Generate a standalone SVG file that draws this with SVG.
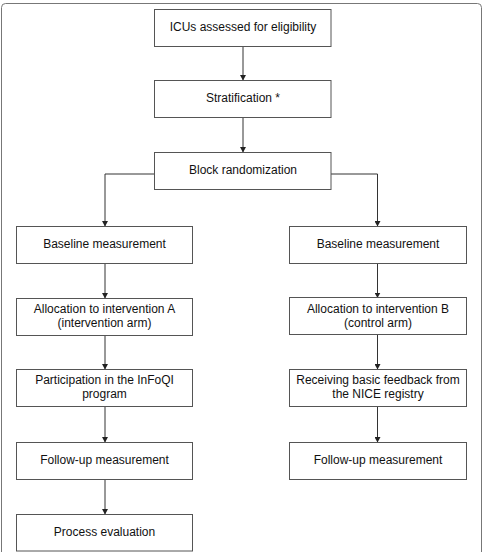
<svg xmlns="http://www.w3.org/2000/svg" width="485" height="552" viewBox="0 0 485 552">
<defs>
<marker id="ah" markerWidth="6" markerHeight="6" refX="5" refY="3" orient="auto" markerUnits="userSpaceOnUse">
<path d="M0,0 L5.5,3 L0,6 Z" fill="#222"/>
</marker>
<style>
.box{fill:#fff;stroke:#555;stroke-width:1}
.t{font-family:"Liberation Sans",Arial,sans-serif;font-size:12px;fill:#111;text-anchor:middle}
.c{fill:none;stroke:#333;stroke-width:1}
</style>
</defs>
<rect x="0" y="0" width="485" height="552" fill="#fff"/>
<rect x="1.5" y="3.5" width="480" height="560" rx="4" fill="#fff" stroke="#777" stroke-width="1"/>
<g id="connectors">
<path class="c" d="M243,46 V80" marker-end="url(#ah)"/>
<path class="c" d="M243,117 V152" marker-end="url(#ah)"/>
<path class="c" d="M154,174 H105 V226" marker-end="url(#ah)"/>
<path class="c" d="M331,174 H377.5 V226" marker-end="url(#ah)"/>
<path class="c" d="M105,263 V298" marker-end="url(#ah)"/>
<path class="c" d="M377.5,263 V297.5" marker-end="url(#ah)"/>
<path class="c" d="M105,335 V369" marker-end="url(#ah)"/>
<path class="c" d="M377.5,335 V369" marker-end="url(#ah)"/>
<path class="c" d="M105,406 V442" marker-end="url(#ah)"/>
<path class="c" d="M377.5,406 V442" marker-end="url(#ah)"/>
<path class="c" d="M105,479 V514" marker-end="url(#ah)"/>
</g>
<g id="n1"><rect class="box" x="154.5" y="9.5" width="176.5" height="37"/><text class="t" x="243" y="30.5">ICUs assessed for eligibility</text></g>
<g id="n2"><rect class="box" x="154.5" y="80.5" width="176.5" height="37"/><text class="t" x="243" y="101.5">Stratification *</text></g>
<g id="n3"><rect class="box" x="154.5" y="152.5" width="176.5" height="37"/><text class="t" x="243" y="173.5">Block randomization</text></g>
<g id="n4"><rect class="box" x="16.5" y="226.5" width="176" height="37"/><text class="t" x="104.5" y="248">Baseline measurement</text></g>
<g id="n5"><rect class="box" x="289.5" y="226.5" width="177" height="37"/><text class="t" x="378" y="248">Baseline measurement</text></g>
<g id="n6"><rect class="box" x="16.5" y="298.5" width="176" height="37"/><text class="t" x="104.5" y="313">Allocation to intervention A</text><text class="t" x="104.5" y="327">(intervention arm)</text></g>
<g id="n7"><rect class="box" x="289.5" y="297.5" width="177" height="37"/><text class="t" x="378" y="312.5">Allocation to intervention B</text><text class="t" x="378" y="326.5">(control arm)</text></g>
<g id="n8"><rect class="box" x="16.5" y="369.5" width="176" height="37"/><text class="t" x="104.5" y="384">Participation in the InFoQI</text><text class="t" x="104.5" y="398">program</text></g>
<g id="n9"><rect class="box" x="289.5" y="369.5" width="177" height="37"/><text class="t" x="378" y="384">Receiving basic feedback from</text><text class="t" x="378" y="398">the NICE registry</text></g>
<g id="n10"><rect class="box" x="16.5" y="442.5" width="176" height="37"/><text class="t" x="104.5" y="464">Follow-up measurement</text></g>
<g id="n11"><rect class="box" x="289.5" y="442.5" width="177" height="37"/><text class="t" x="378" y="464">Follow-up measurement</text></g>
<g id="n12"><rect class="box" x="16.5" y="514.5" width="176" height="36.5"/><text class="t" x="104.5" y="536">Process evaluation</text></g>
</svg>
